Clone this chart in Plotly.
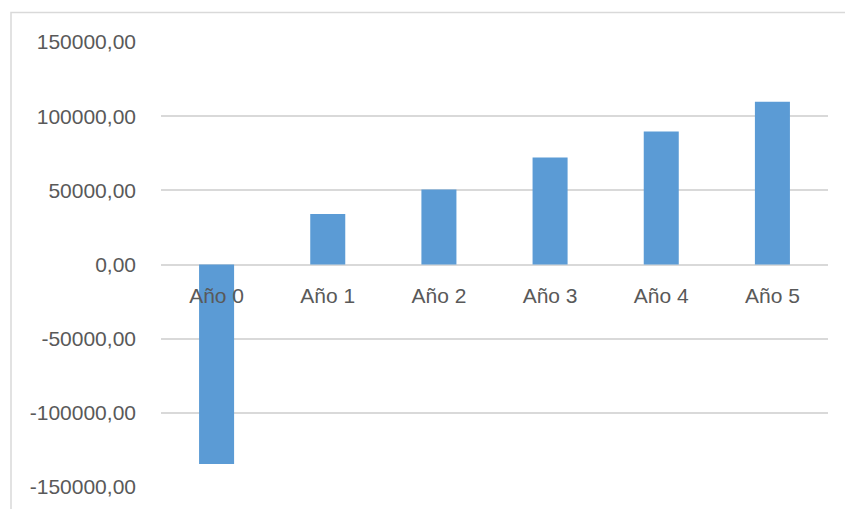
import plotly.graph_objects as go

# Flujo de caja neto por año
categorias = ["Año 0", "Año 1", "Año 2", "Año 3", "Año 4", "Año 5"]
flujos = [-134500, 34000, 50500, 72100, 89700, 109700]

valores_eje = [-150000, -100000, -50000, 0, 50000, 100000, 150000]
etiquetas_eje = ["-150000,00", "-100000,00", "-50000,00", "0,00",
                 "50000,00", "100000,00", "150000,00"]

BLUE = "#5B9BD5"
GRID = "#D9D9D9"
TEXT = "#595959"
FONT = "Liberation Sans, Arial, sans-serif"

fig = go.Figure(
    go.Bar(x=categorias, y=flujos, marker=dict(color=BLUE, line=dict(width=0)))
)

L, R, T, B = 161, 17, 41.5, 21.7
W, H = 845, 509
pw = W - L - R
ph = H - T - B

fig.update_layout(
    width=W, height=H,
    margin=dict(l=L, r=R, t=T, b=B, pad=0),
    paper_bgcolor="white", plot_bgcolor="white",
    bargap=0.685,
    showlegend=False,
    font=dict(family=FONT, size=21, color=TEXT),
    xaxis=dict(
        anchor="free", position=0.5,
        showline=False, showgrid=False, zeroline=False,
        ticks="", tickfont=dict(size=21, color=TEXT, family=FONT),
        ticklabelstandoff=16,
    ),
    yaxis=dict(
        range=[-150000, 150000],
        tickvals=valores_eje, ticktext=etiquetas_eje,
        showgrid=True, gridcolor=GRID, gridwidth=1.5,
        zeroline=True, zerolinecolor=GRID, zerolinewidth=1.5,
        showline=False, ticks="",
        tickfont=dict(size=21, color=TEXT, family=FONT),
        ticklabelstandoff=24,
    ),
    shapes=[dict(
        type="rect", xref="paper", yref="paper",
        x0=(11 - L) / pw, x1=(W + 5 - L) / pw,
        y0=-(B + 10) / ph, y1=(H - B - 12) / ph,
        line=dict(color=GRID, width=1.5), fillcolor="rgba(0,0,0,0)",
        layer="below",
    )],
)

fig.write_html("out.html")
